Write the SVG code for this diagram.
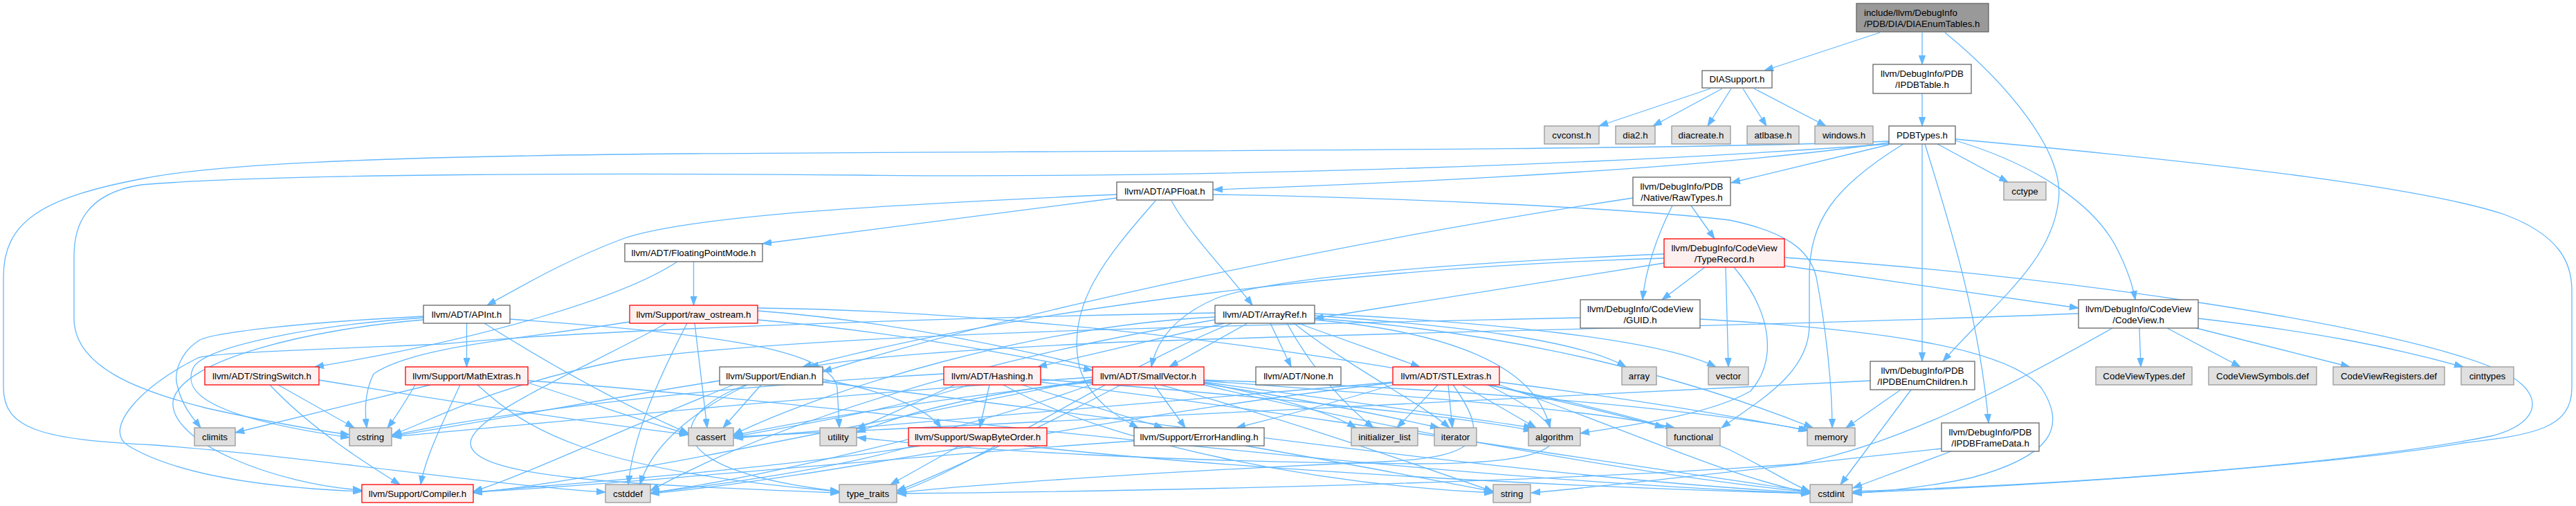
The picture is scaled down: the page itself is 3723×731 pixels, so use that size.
<svg xmlns="http://www.w3.org/2000/svg" width="3723" height="731" viewBox="0 0 3723 731">
<style>
text{font-family:"Liberation Sans",Arial,sans-serif;font-size:13.33px;fill:#000;text-anchor:middle}
.w{fill:#fff;stroke:#666;stroke-width:1.3}
.g{fill:#e0e0e0;stroke:#999;stroke-width:1.3}
.r{fill:#fff0f0;stroke:#f00;stroke-width:1.3}
.root{fill:#999;stroke:#666;stroke-width:1.3}
.e{fill:none;stroke:#63B8FF;stroke-width:1.3;marker-end:url(#a)}
</style>
<defs>
<marker id="a" markerWidth="14" markerHeight="10" refX="13" refY="5" orient="auto" markerUnits="userSpaceOnUse"><path d="M0,0.4 L13,5 L0,9.6 z" fill="#63B8FF" stroke="#63B8FF" stroke-width="1"/></marker>
</defs>
<rect width="3723" height="731" fill="#fff"/>
<g id="edges">
<path class="e" d="M2717,47 L2550,102"/>
<path class="e" d="M2778,47 L2778,93"/>
<path class="e" d="M2811,47 C2900,120 2985,220 2975,290 C2965,380 2880,440 2808,522"/>
<path class="e" d="M2472,128 L2311,182"/>
<path class="e" d="M2489,128 L2389,182"/>
<path class="e" d="M2502,128 L2468,182"/>
<path class="e" d="M2519,128 L2553,182"/>
<path class="e" d="M2535,128 L2639,182"/>
<path class="e" d="M2778,135 L2778,182"/>
<path class="e" d="M2800,208 L2902,263"/>
<path class="e" d="M2730,206 C2500,240 2100,262 1754,274"/>
<path class="e" d="M2730,204 C2400,218 1500,218 1000,222 C500,226 300,240 212,257 C60,285 5,320 5,400 L5,560 C5,620 60,635 224,643 C450,660 700,700 875,711"/>
<path class="e" d="M2730,208 C2300,240 1700,258 1240,253 C900,250 400,250 204,267 C120,280 107,330 107,370 L107,460 C107,530 200,565 300,590 C400,612 460,622 505,628"/>
<path class="e" d="M2778,208 L2778,522"/>
<path class="e" d="M2782,208 C2810,300 2860,450 2874,611"/>
<path class="e" d="M2826,201 C3200,235 3500,270 3620,310 C3700,340 3717,380 3717,420 L3717,560 C3717,620 3660,628 3560,640 C3400,668 3000,700 2678,712"/>
<path class="e" d="M2751,208 C2650,270 2615,320 2615,400 L2615,470 C2615,540 2540,580 2488,618"/>
<path class="e" d="M2826,203 C2950,240 3030,300 3060,360 C3075,390 3082,410 3086,433"/>
<path class="e" d="M2730,209 L2502,264"/>
<path class="e" d="M1614,281 C1300,295 1000,310 900,345 C820,375 760,410 704,441"/>
<path class="e" d="M1614,286 L1102,352"/>
<path class="e" d="M1670,290 C1600,370 1540,440 1560,530 C1575,580 1620,605 1645,618"/>
<path class="e" d="M1693,290 C1720,340 1780,400 1810,441"/>
<path class="e" d="M1753,281 C2000,285 2350,300 2500,318 C2580,335 2615,360 2625,400 C2640,480 2648,560 2648,618"/>
<path class="e" d="M2360,286 C2000,340 1500,440 1189,537"/>
<path class="e" d="M2417,297 C2395,340 2378,390 2374,433"/>
<path class="e" d="M2444,297 L2478,345"/>
<path class="e" d="M2405,380 L1900,460"/>
<path class="e" d="M2405,367 C2100,380 1850,400 1760,430 C1700,455 1672,490 1664,530"/>
<path class="e" d="M2579,384 L3004,445"/>
<path class="e" d="M2464,386 L2402,433"/>
<path class="e" d="M2494,386 L2498,530"/>
<path class="e" d="M2506,386 C2560,450 2570,520 2530,565 C2470,600 2350,615 2284,626"/>
<path class="e" d="M2579,372 C3000,400 3450,470 3600,530 C3680,560 3680,610 3600,630 C3400,670 3000,700 2678,710"/>
<path class="e" d="M2405,373 C2000,385 1500,440 1160,530"/>
<path class="e" d="M2284,459 C1800,470 1200,480 900,520 C700,560 620,610 567,628"/>
<path class="e" d="M2457,461 C2700,475 2900,500 2950,560 C2990,620 2960,660 2850,690 C2780,705 2720,710 2678,713"/>
<path class="e" d="M3092,474 L3094,530"/>
<path class="e" d="M3132,474 L3238,530"/>
<path class="e" d="M3174,474 L3396,530"/>
<path class="e" d="M3177,460 C3350,480 3450,500 3560,530"/>
<path class="e" d="M3004,453 C2600,470 2000,480 1600,495 C1400,505 1250,515 1170,530"/>
<path class="e" d="M3053,474 C2900,560 2750,640 2600,670 C2200,700 1600,710 1297,713"/>
<path class="e" d="M1770,467 L1500,530"/>
<path class="e" d="M1836,467 L1866,530"/>
<path class="e" d="M1803,467 L1690,530"/>
<path class="e" d="M1876,467 L2052,530"/>
<path class="e" d="M1756,452 C1300,460 800,480 640,497 C450,505 300,510 286,517 C200,560 150,620 184,643 C260,690 400,705 523,710"/>
<path class="e" d="M1900,462 C2100,480 2220,530 2240,618"/>
<path class="e" d="M1900,456 C2100,470 2280,490 2350,530"/>
<path class="e" d="M1756,458 C1500,470 1200,560 1060,628"/>
<path class="e" d="M1756,462 C1400,520 1100,620 940,709"/>
<path class="e" d="M1860,467 C1900,540 1950,590 1985,618"/>
<path class="e" d="M1870,467 C1950,530 2050,580 2095,618"/>
<path class="e" d="M1900,460 C2200,480 2450,550 2620,618"/>
<path class="e" d="M1780,467 C1600,540 1400,680 1297,711"/>
<path class="e" d="M1900,453 C2150,465 2400,490 2480,530"/>
<path class="e" d="M674.5,467 L674.5,530"/>
<path class="e" d="M737,461 C1000,480 1200,500 1210,560 L1213,618"/>
<path class="e" d="M700,467 C800,530 900,585 995,626"/>
<path class="e" d="M612,457 C450,465 300,480 286,493 C260,510 250,540 257,560 C265,590 280,605 290,618"/>
<path class="e" d="M612,459 C450,470 300,500 280,530 C265,560 280,600 505,632"/>
<path class="e" d="M612,462 C450,475 260,520 250,580 C245,640 400,700 523,708"/>
<path class="e" d="M1002.5,378 L1002.5,441"/>
<path class="e" d="M979,378 C900,430 700,490 455,530"/>
<path class="e" d="M1095,462 C1300,480 1450,510 1579,535"/>
<path class="e" d="M1004,467 L1022,618"/>
<path class="e" d="M993,467 C950,550 915,630 908,700"/>
<path class="e" d="M910,465 C750,490 600,500 540,540 C525,570 528,600 530,618"/>
<path class="e" d="M963,467 C850,530 680,600 680,640 C680,690 900,700 1213,712"/>
<path class="e" d="M1095,445 C1600,450 2300,560 2500,650 C2560,680 2590,700 2616,710"/>
<path class="e" d="M1095,449 C1500,480 1900,620 2158,710"/>
<path class="e" d="M1668,556 L1713,618"/>
<path class="e" d="M1579,548 C1300,600 900,690 684,712"/>
<path class="e" d="M1740,552 C1950,580 2100,600 2215,618"/>
<path class="e" d="M1579,552 C1400,570 1200,600 1060,629"/>
<path class="e" d="M1579,555 C1400,620 1100,690 940,712"/>
<path class="e" d="M1740,556 C2000,620 2400,690 2616,711"/>
<path class="e" d="M1579,545 C1200,570 800,610 567,631"/>
<path class="e" d="M1740,550 C2000,570 2300,590 2420,618"/>
<path class="e" d="M1740,553 C1850,575 1920,595 1960,618"/>
<path class="e" d="M1740,554 C1900,580 2000,600 2080,618"/>
<path class="e" d="M1740,549 C2100,560 2450,590 2615,622"/>
<path class="e" d="M1620,556 C1500,620 1350,690 1296,709"/>
<path class="e" d="M1579,550 C1400,570 1300,600 1238,625"/>
<path class="e" d="M1430,556 L1416,618"/>
<path class="e" d="M1477,556 L1681,618"/>
<path class="e" d="M1504,548 C1800,570 2100,600 2215,622"/>
<path class="e" d="M1401,556 C1300,590 1150,615 1061,631"/>
<path class="e" d="M1364,540 C1000,560 700,600 567,629"/>
<path class="e" d="M1450,556 C1600,640 1900,700 2158,712"/>
<path class="e" d="M1380,556 L1238,620"/>
<path class="e" d="M1504,552 C1900,600 2400,680 2616,710"/>
<path class="e" d="M1060,556 C900,620 750,690 684,710"/>
<path class="e" d="M1189,548 C1280,565 1340,590 1360,618"/>
<path class="e" d="M1100,556 L1045,618"/>
<path class="e" d="M1080,556 C990,600 940,650 925,700"/>
<path class="e" d="M1189,552 C1600,600 2200,690 2616,712"/>
<path class="e" d="M1040,550 C850,580 700,610 567,630"/>
<path class="e" d="M1078,556 C960,600 950,680 1213,710"/>
<path class="e" d="M1330,644 C1100,680 800,700 684,711"/>
<path class="e" d="M1320,644 C1200,680 1000,705 940,712"/>
<path class="e" d="M1480,644 C1800,680 2300,705 2616,713"/>
<path class="e" d="M1387,644 L1287,700"/>
<path class="e" d="M1639,637 C1300,660 900,700 684,711"/>
<path class="e" d="M1800,644 C1950,670 2080,695 2158,710"/>
<path class="e" d="M665,556 C640,610 615,660 608,700"/>
<path class="e" d="M763,553 C850,580 930,610 995,627"/>
<path class="e" d="M622,556 L340,625"/>
<path class="e" d="M763,550 C1200,580 2000,690 2616,713"/>
<path class="e" d="M600,556 C580,590 570,605 560,618"/>
<path class="e" d="M690,556 C760,620 850,680 1213,710"/>
<path class="e" d="M390,556 C450,620 530,670 578,700"/>
<path class="e" d="M402,556 L512,618"/>
<path class="e" d="M461,549 C650,580 850,610 995,628"/>
<path class="e" d="M2078,556 L2019,618"/>
<path class="e" d="M2093,556 L2099,618"/>
<path class="e" d="M2113,556 L2220,618"/>
<path class="e" d="M2154,556 C2250,580 2350,600 2405,618"/>
<path class="e" d="M2167,552 C2350,575 2500,600 2612,622"/>
<path class="e" d="M2013,556 C1950,575 1880,595 1787,618"/>
<path class="e" d="M2013,552 C1700,580 1300,610 1061,633"/>
<path class="e" d="M2013,553 C1600,600 1200,690 940,713"/>
<path class="e" d="M2167,556 C2350,620 2500,690 2616,712"/>
<path class="e" d="M2100,556 C2160,640 2130,660 2000,667 C1700,680 1400,700 1297,712"/>
<path class="e" d="M2150,556 C2320,640 2250,670 2050,670 C1700,668 1400,650 1239,632"/>
<path class="e" d="M2703,550 C2300,570 1500,610 1061,631"/>
<path class="e" d="M2747,563 L2668,618"/>
<path class="e" d="M2762,563 L2660,700"/>
<path class="e" d="M2806,648 C2600,670 2350,700 2213,712"/>
<path class="e" d="M2820,652 L2678,705"/>
</g>
<g id="n_root"><rect class="root" x="2683" y="5" width="191" height="41"/><text x="2694" y="23" style="text-anchor:start">include/llvm/DebugInfo</text><text x="2694" y="38.5" style="text-anchor:start">/PDB/DIA/DIAEnumTables.h</text></g>
<g id="n_diasupport"><rect class="w" x="2460" y="102" width="101" height="25"/><text x="2510.5" y="119">DIASupport.h</text></g>
<g id="n_ipdbtable"><rect class="w" x="2707" y="93" width="142" height="42"/><text x="2778" y="111">llvm/DebugInfo/PDB</text><text x="2778" y="126.5">/IPDBTable.h</text></g>
<g id="n_cvconst"><rect class="g" x="2232" y="182" width="79" height="26"/><text x="2271.5" y="199.5">cvconst.h</text></g>
<g id="n_dia2"><rect class="g" x="2335" y="182" width="57" height="26"/><text x="2363.5" y="199.5">dia2.h</text></g>
<g id="n_diacreate"><rect class="g" x="2416" y="182" width="85" height="26"/><text x="2458.5" y="199.5">diacreate.h</text></g>
<g id="n_atlbase"><rect class="g" x="2525" y="182" width="75" height="26"/><text x="2562.5" y="199.5">atlbase.h</text></g>
<g id="n_windows"><rect class="g" x="2623" y="182" width="84" height="26"/><text x="2665" y="199.5">windows.h</text></g>
<g id="n_pdbtypes"><rect class="w" x="2730" y="182" width="96" height="26"/><text x="2778" y="199.5">PDBTypes.h</text></g>
<g id="n_cctype"><rect class="g" x="2896" y="263" width="61" height="26"/><text x="2926.5" y="280.5">cctype</text></g>
<g id="n_apfloat"><rect class="w" x="1614" y="263" width="139" height="26"/><text x="1683.5" y="280.5">llvm/ADT/APFloat.h</text></g>
<g id="n_rawtypes"><rect class="w" x="2360" y="256" width="141" height="41"/><text x="2430.5" y="274">llvm/DebugInfo/PDB</text><text x="2430.5" y="289.5">/Native/RawTypes.h</text></g>
<g id="n_typerecord"><rect class="r" x="2405" y="345" width="174" height="41"/><text x="2492" y="363">llvm/DebugInfo/CodeView</text><text x="2492" y="378.5">/TypeRecord.h</text></g>
<g id="n_fpm"><rect class="w" x="903" y="352" width="199" height="26"/><text x="1002.5" y="369.5">llvm/ADT/FloatingPointMode.h</text></g>
<g id="n_apint"><rect class="w" x="612" y="441" width="125" height="26"/><text x="674.5" y="458.5">llvm/ADT/APInt.h</text></g>
<g id="n_rawostream"><rect class="r" x="910" y="441" width="185" height="26"/><text x="1002.5" y="458.5">llvm/Support/raw_ostream.h</text></g>
<g id="n_arrayref"><rect class="w" x="1756" y="441" width="144" height="26"/><text x="1828" y="458.5">llvm/ADT/ArrayRef.h</text></g>
<g id="n_guid"><rect class="w" x="2284" y="433" width="173" height="41"/><text x="2370.5" y="451">llvm/DebugInfo/CodeView</text><text x="2370.5" y="466.5">/GUID.h</text></g>
<g id="n_codeview"><rect class="w" x="3004" y="433" width="173" height="41"/><text x="3090.5" y="451">llvm/DebugInfo/CodeView</text><text x="3090.5" y="466.5">/CodeView.h</text></g>
<g id="n_stringswitch"><rect class="r" x="296" y="530" width="165" height="26"/><text x="378.5" y="547.5">llvm/ADT/StringSwitch.h</text></g>
<g id="n_mathextras"><rect class="r" x="586" y="530" width="177" height="26"/><text x="674.5" y="547.5">llvm/Support/MathExtras.h</text></g>
<g id="n_endian"><rect class="w" x="1040" y="530" width="149" height="26"/><text x="1114.5" y="547.5">llvm/Support/Endian.h</text></g>
<g id="n_hashing"><rect class="r" x="1364" y="530" width="140" height="26"/><text x="1434" y="547.5">llvm/ADT/Hashing.h</text></g>
<g id="n_smallvector"><rect class="r" x="1579" y="530" width="161" height="26"/><text x="1659.5" y="547.5">llvm/ADT/SmallVector.h</text></g>
<g id="n_none"><rect class="w" x="1815" y="530" width="123" height="26"/><text x="1876.5" y="547.5">llvm/ADT/None.h</text></g>
<g id="n_stlextras"><rect class="r" x="2013" y="530" width="154" height="26"/><text x="2090" y="547.5">llvm/ADT/STLExtras.h</text></g>
<g id="n_array"><rect class="g" x="2344" y="530" width="50" height="26"/><text x="2369" y="547.5">array</text></g>
<g id="n_vector"><rect class="g" x="2469" y="530" width="58" height="26"/><text x="2498" y="547.5">vector</text></g>
<g id="n_ipdbenum"><rect class="w" x="2703" y="522" width="151" height="41"/><text x="2778.5" y="540">llvm/DebugInfo/PDB</text><text x="2778.5" y="555.5">/IPDBEnumChildren.h</text></g>
<g id="n_cvtypes"><rect class="g" x="3029" y="530" width="139" height="26"/><text x="3098.5" y="547.5">CodeViewTypes.def</text></g>
<g id="n_cvsymbols"><rect class="g" x="3192" y="530" width="156" height="26"/><text x="3270" y="547.5">CodeViewSymbols.def</text></g>
<g id="n_cvregisters"><rect class="g" x="3372" y="530" width="161" height="26"/><text x="3452.5" y="547.5">CodeViewRegisters.def</text></g>
<g id="n_cinttypes"><rect class="g" x="3557" y="530" width="76" height="26"/><text x="3595" y="547.5">cinttypes</text></g>
<g id="n_climits"><rect class="g" x="281" y="618" width="59" height="26"/><text x="310.5" y="635.5">climits</text></g>
<g id="n_cstring"><rect class="g" x="505" y="618" width="61" height="26"/><text x="535.5" y="635.5">cstring</text></g>
<g id="n_cassert"><rect class="g" x="995" y="618" width="65" height="26"/><text x="1027.5" y="635.5">cassert</text></g>
<g id="n_utility"><rect class="g" x="1185" y="618" width="53" height="26"/><text x="1211.5" y="635.5">utility</text></g>
<g id="n_swapbyteorder"><rect class="r" x="1313" y="618" width="200" height="26"/><text x="1413" y="635.5">llvm/Support/SwapByteOrder.h</text></g>
<g id="n_errorhandling"><rect class="w" x="1639" y="618" width="188" height="26"/><text x="1733" y="635.5">llvm/Support/ErrorHandling.h</text></g>
<g id="n_initlist"><rect class="g" x="1953" y="618" width="96" height="26"/><text x="2001" y="635.5">initializer_list</text></g>
<g id="n_iterator"><rect class="g" x="2073" y="618" width="61" height="26"/><text x="2103.5" y="635.5">iterator</text></g>
<g id="n_algorithm"><rect class="g" x="2209" y="618" width="75" height="26"/><text x="2246.5" y="635.5">algorithm</text></g>
<g id="n_functional"><rect class="g" x="2409" y="618" width="77" height="26"/><text x="2447.5" y="635.5">functional</text></g>
<g id="n_memory"><rect class="g" x="2612" y="618" width="69" height="26"/><text x="2646.5" y="635.5">memory</text></g>
<g id="n_ipdbframe"><rect class="w" x="2806" y="611" width="141" height="41"/><text x="2876.5" y="629">llvm/DebugInfo/PDB</text><text x="2876.5" y="644.5">/IPDBFrameData.h</text></g>
<g id="n_compiler"><rect class="r" x="523" y="700" width="161" height="26"/><text x="603.5" y="717.5">llvm/Support/Compiler.h</text></g>
<g id="n_cstddef"><rect class="g" x="875" y="700" width="65" height="26"/><text x="907.5" y="717.5">cstddef</text></g>
<g id="n_typetraits"><rect class="g" x="1213" y="700" width="83" height="26"/><text x="1254.5" y="717.5">type_traits</text></g>
<g id="n_string"><rect class="g" x="2158" y="700" width="54" height="26"/><text x="2185" y="717.5">string</text></g>
<g id="n_cstdint"><rect class="g" x="2616" y="700" width="61" height="26"/><text x="2646.5" y="717.5">cstdint</text></g>
</svg>
